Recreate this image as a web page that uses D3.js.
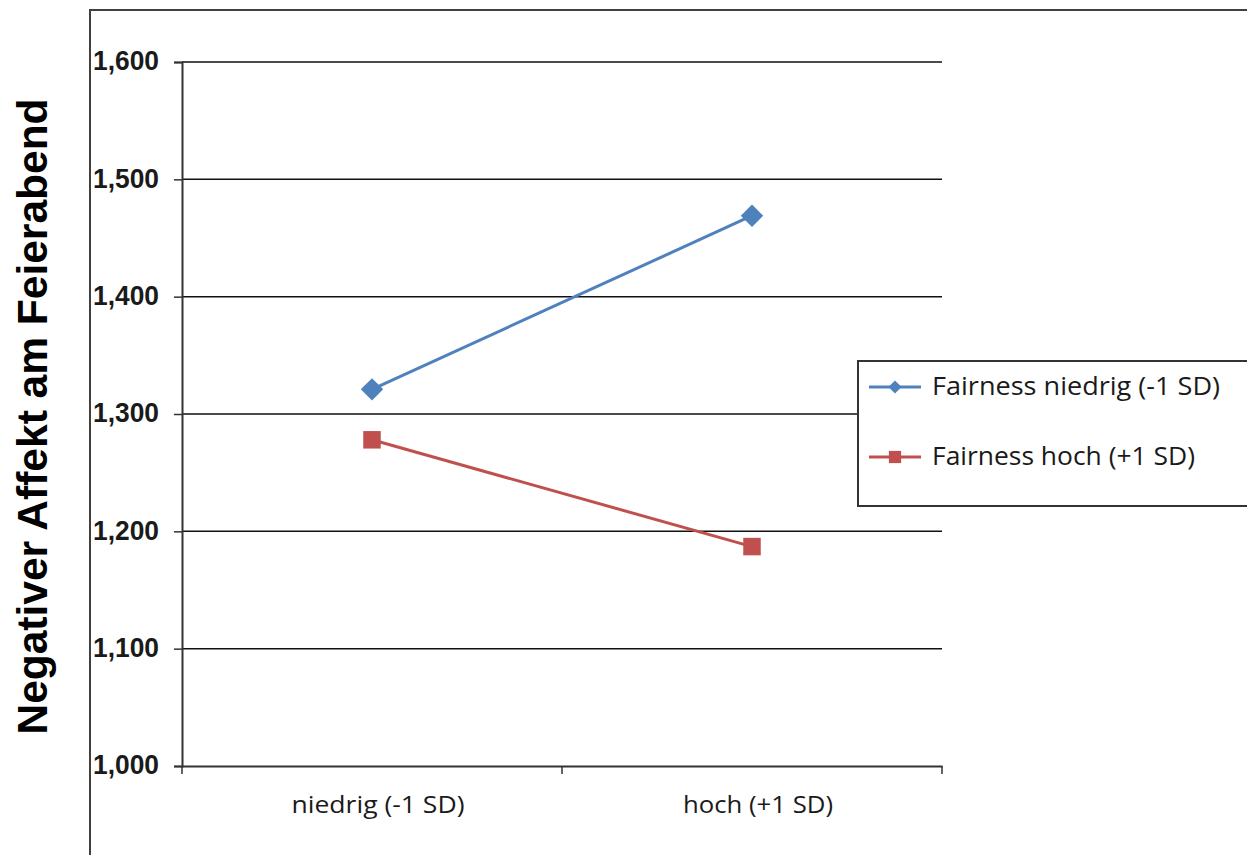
<!DOCTYPE html>
<html><head><meta charset="utf-8">
<script src="https://cdn.jsdelivr.net/npm/d3@7"></script>
<style>body{margin:0;background:#fff;}svg{display:block;}</style>
</head><body>
<svg id="c" width="1247" height="855"></svg>
<script>
const categories = ["niedrig (-1 SD)", "hoch (+1 SD)"];
const seriesNames = ["Fairness niedrig (-1 SD)", "Fairness hoch (+1 SD)"];
const fairnessNiedrig = [1.321, 1.469];
const fairnessHoch = [1.278, 1.187];
const yTicks = [1.0, 1.1, 1.2, 1.3, 1.4, 1.5, 1.6];
const yLabel = "Negativer Affekt am Feierabend";

const svg = d3.select("#c");
const L = 182, R = 942, T = 62, B = 766;
const x = d3.scaleBand().domain(categories).range([L, R]);
const y = d3.scaleLinear().domain([1.0, 1.6]).range([B, T]);

// outer frame
svg.append("path").attr("d", `M90,860 V10 H1260`).attr("fill","none").attr("stroke","#404040").attr("stroke-width",2);

// gridlines
svg.append("g").selectAll("line").data(yTicks.filter(d=>d>1.0)).join("line")
  .attr("x1", L).attr("x2", R).attr("y1", d=>y(d)).attr("y2", d=>y(d))
  .attr("stroke","#111").attr("stroke-width",1.5);

// y axis
const ya = svg.append("g").attr("transform",`translate(${L},0)`)
  .call(d3.axisLeft(y).tickValues(yTicks).tickSize(8).tickPadding(15));
ya.select(".domain").attr("stroke","#333").attr("stroke-width",2);
ya.selectAll(".tick line").attr("stroke","#333").attr("stroke-width",1.5);
ya.selectAll("text").attr("font-family","Liberation Sans, Arial, sans-serif").attr("font-weight","bold")
  .attr("font-size",28).attr("fill","#1a1a1a").attr("dy","0.28em")
  .attr("textLength",66).attr("lengthAdjust","spacingAndGlyphs")
  .text(d => d3.format(".3f")(d).replace(".", ","));

// x axis
const xa = svg.append("g").attr("transform",`translate(0,${B})`)
  .call(d3.axisBottom(x).tickSize(0).tickPadding(0));
xa.select(".domain").attr("stroke","#333").attr("stroke-width",2);
xa.selectAll("text").attr("font-family","Open Sans, sans-serif").attr("font-size",23).attr("fill","#1a1a1a")
  .attr("y",47).attr("dy",0).attr("dx",6)
  .attr("textLength",(d,i)=> i===0 ? 173 : 150).attr("lengthAdjust","spacingAndGlyphs");
// x ticks at band boundaries
const bounds = [L, L + x.bandwidth(), R];
svg.append("g").selectAll("line").data(bounds).join("line")
  .attr("x1", d=>d).attr("x2", d=>d).attr("y1", B).attr("y2", B+8)
  .attr("stroke","#333").attr("stroke-width",1.5);

// y label
svg.append("text").attr("transform",`translate(47,416.5) rotate(-90)`)
  .attr("text-anchor","middle").attr("font-family","Liberation Sans, Arial, sans-serif")
  .attr("font-weight","bold").attr("font-size",42.5).attr("fill","#000").text(yLabel);

const cx = d => x(d) + x.bandwidth()/2;
const line = d3.line().x((d,i)=>cx(categories[i])).y(d=>y(d));
const colors = ["#4F81BD", "#C0504D"];
const data = [fairnessNiedrig, fairnessHoch];

data.forEach((vals, si) => {
  svg.append("path").datum(vals).attr("d", line).attr("fill","none")
    .attr("stroke", colors[si]).attr("stroke-width",3);
  svg.append("g").selectAll("path").data(vals).join("path")
    .attr("transform",(d,i)=>`translate(${cx(categories[i])},${y(d)})`)
    .attr("d", si===0 ? d3.symbol(d3.symbolDiamond2, 320)() : d3.symbol(d3.symbolSquare2, 390)())
    .attr("fill", colors[si]);
});
// legend
const lg = svg.append("g");
lg.append("rect").attr("x",858).attr("y",361).attr("width",420).attr("height",145)
  .attr("fill","#fff").attr("stroke","#333").attr("stroke-width",2);
seriesNames.forEach((n, i) => {
  const yy = 387 + i*70;
  lg.append("line").attr("x1",869).attr("x2",921).attr("y1",yy).attr("y2",yy)
    .attr("stroke",colors[i]).attr("stroke-width",3);
  lg.append("path").attr("transform",`translate(895,${yy})`)
    .attr("d", i===0 ? d3.symbol(d3.symbolDiamond2, 110)() : d3.symbol(d3.symbolSquare2, 190)())
    .attr("fill",colors[i]);
  lg.append("text").attr("x",932).attr("y",yy+8).attr("font-family","Open Sans, sans-serif")
    .attr("font-size",25).attr("fill","#1a1a1a")
    .attr("textLength", i===0 ? 288 : 263).attr("lengthAdjust","spacingAndGlyphs").text(n);
});
</script>
</body></html>
